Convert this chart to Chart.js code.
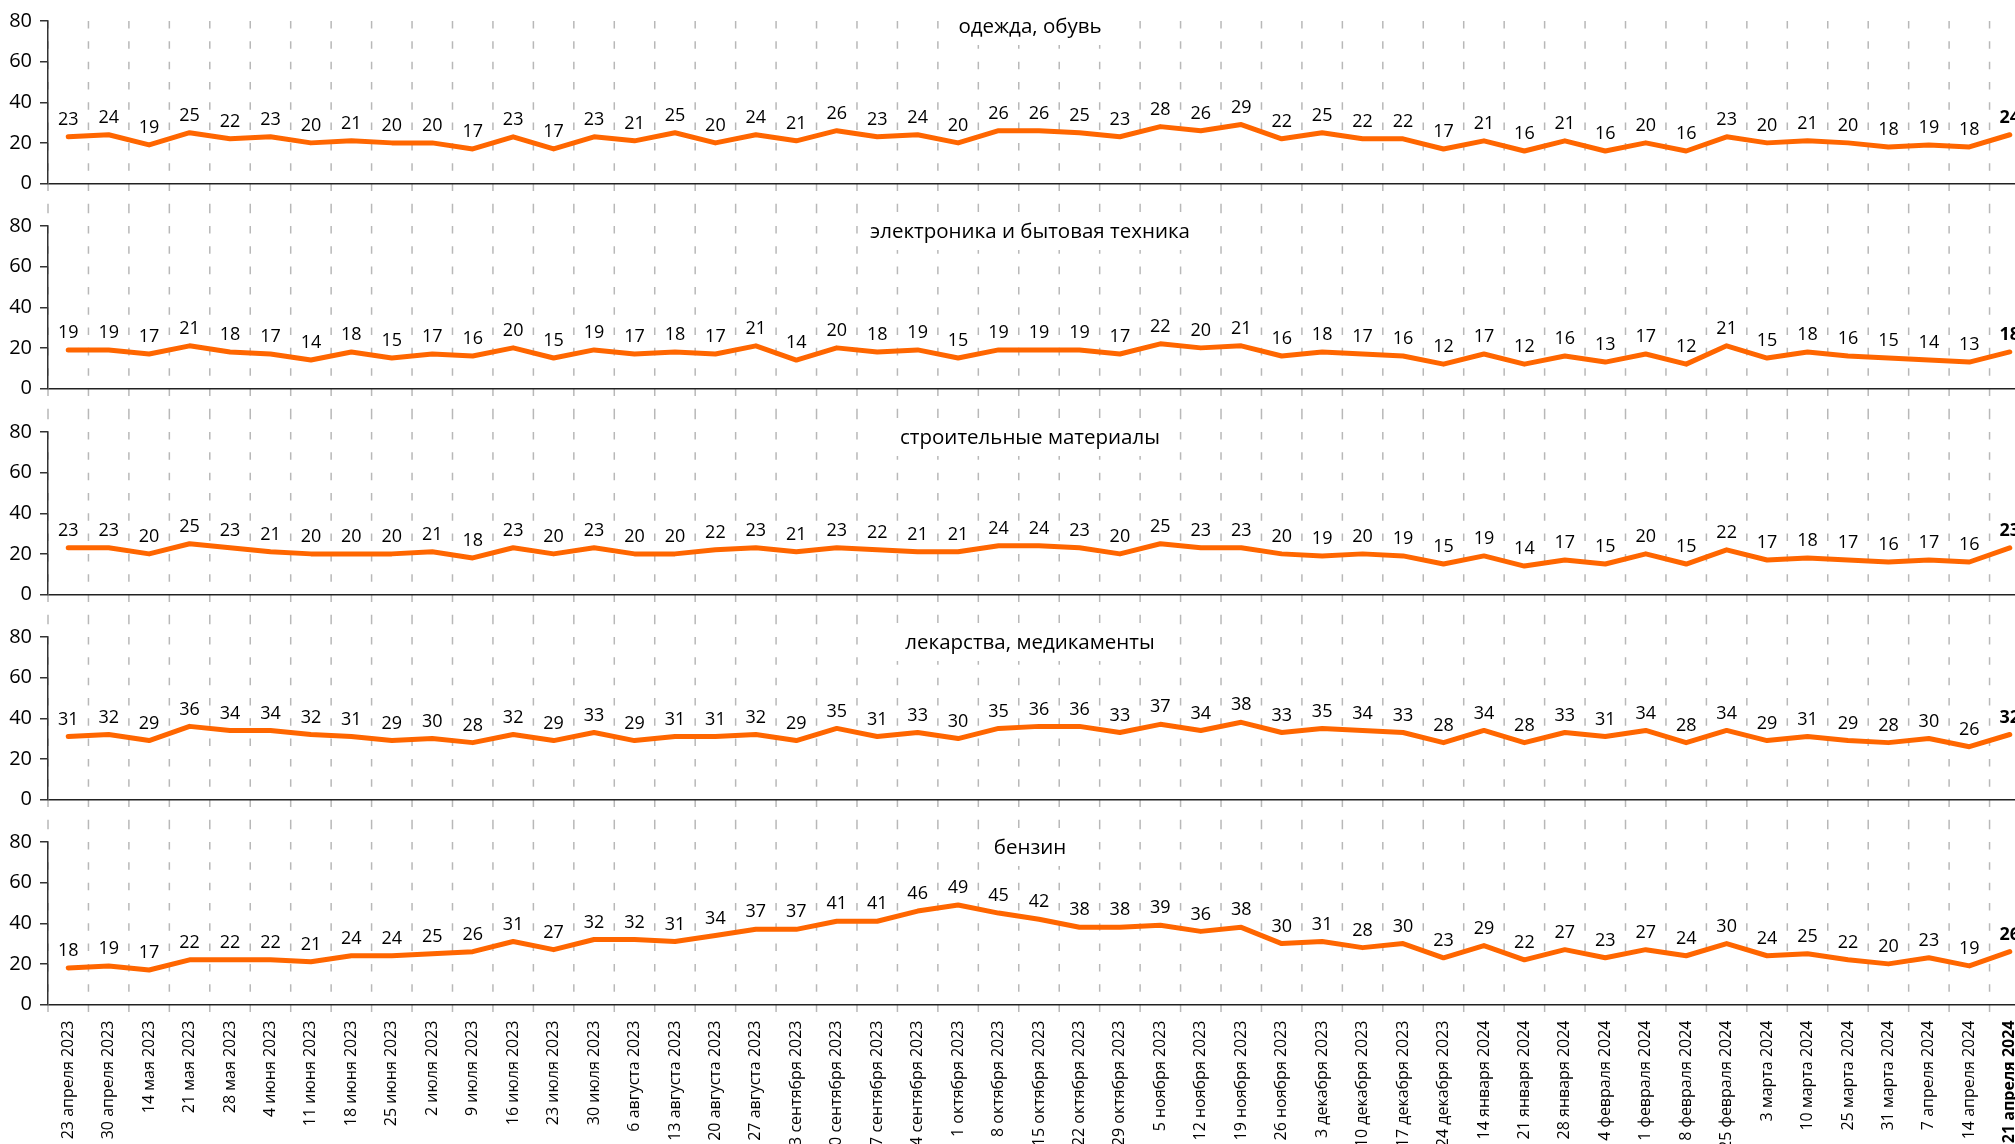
<!DOCTYPE html>
<html>
<head>
<meta charset="utf-8">
<script src="https://cdn.jsdelivr.net/npm/chart.js@4.4.1/dist/chart.umd.min.js"></script>
<style>
html,body{margin:0;padding:0;overflow:hidden;background:#fff;width:2015px;height:1144px;}
#wrap{position:relative;width:2015px;height:1144px;overflow:hidden;background:#fff;}
#wrap canvas{position:absolute;left:0;}
</style>
</head>
<body>
<div id="wrap"></div>
<script>
// ---- data ----
const categories = ['23 апреля 2023','30 апреля 2023','14 мая 2023','21 мая 2023','28 мая 2023','4 июня 2023','11 июня 2023','18 июня 2023','25 июня 2023','2 июля 2023','9 июля 2023','16 июля 2023','23 июля 2023','30 июля 2023','6 августа 2023','13 августа 2023','20 августа 2023','27 августа 2023','3 сентября 2023','10 сентября 2023','17 сентября 2023','24 сентября 2023','1 октября 2023','8 октября 2023','15 октября 2023','22 октября 2023','29 октября 2023','5 ноября 2023','12 ноября 2023','19 ноября 2023','26 ноября 2023','3 декабря 2023','10 декабря 2023','17 декабря 2023','24 декабря 2023','14 января 2024','21 января 2024','28 января 2024','4 февраля 2024','11 февраля 2024','18 февраля 2024','25 февраля 2024','3 марта 2024','10 марта 2024','25 марта 2024','31 марта 2024','7 апреля 2024','14 апреля 2024','21 апреля 2024'];

const clothing    = [23,24,19,25,22,23,20,21,20,20,17,23,17,23,21,25,20,24,21,26,23,24,20,26,26,25,23,28,26,29,22,25,22,22,17,21,16,21,16,20,16,23,20,21,20,18,19,18,24];
const electronics = [19,19,17,21,18,17,14,18,15,17,16,20,15,19,17,18,17,21,14,20,18,19,15,19,19,19,17,22,20,21,16,18,17,16,12,17,12,16,13,17,12,21,15,18,16,15,14,13,18];
const building    = [23,23,20,25,23,21,20,20,20,21,18,23,20,23,20,20,22,23,21,23,22,21,21,24,24,23,20,25,23,23,20,19,20,19,15,19,14,17,15,20,15,22,17,18,17,16,17,16,23];
const medicine    = [31,32,29,36,34,34,32,31,29,30,28,32,29,33,29,31,31,32,29,35,31,33,30,35,36,36,33,37,34,38,33,35,34,33,28,34,28,33,31,34,28,34,29,31,29,28,30,26,32];
const petrol      = [18,19,17,22,22,22,21,24,24,25,26,31,27,32,32,31,34,37,37,41,41,46,49,45,42,38,38,39,36,38,30,31,28,30,23,29,22,27,23,27,24,30,24,25,22,20,23,19,26];

const panelTitles = ['одежда, обувь','электроника и бытовая техника','строительные материалы','лекарства, медикаменты','бензин'];
const panelSeries = [clothing, electronics, building, medicine, petrol];
const yTickValues = [0, 20, 40, 60, 80];

// ---- layout / style ----
const FONT = '"Open Sans", "Noto Sans", sans-serif';
const ORANGE = '#ff6600';
const CANVAS_W = 2030;
const TOP_PAD = 20;
const PLOT_H = 162.5;
const tops = [1, 206, 412, 617, 822];
const heights = [205, 206, 205, 205, 330];

const vgridPlugin = {
  id: 'vgrid',
  beforeDraw(chart, args, o) {
    const {ctx, chartArea, scales} = chart;
    const x = scales.x, y = scales.y;
    const period = y.getPixelForValue(70) - y.getPixelForValue(80);
    const y0 = o.first ? chartArea.top : chartArea.top - 2 * period;
    const y1 = o.last ? chartArea.bottom + 9 : chart.height;
    ctx.save();
    ctx.strokeStyle = '#b8b8b8';
    ctx.lineWidth = 1.5;
    ctx.setLineDash([period * 0.37, period * 0.63]);
    for (let i = 0; i <= categories.length; i++) {
      const px = x.getPixelForValue(i - 0.5);
      ctx.beginPath();
      ctx.moveTo(px, y0);
      ctx.lineTo(px, y1);
      ctx.stroke();
    }
    ctx.restore();
  },
  beforeDatasetsDraw(chart, args, o) {
    const {ctx, chartArea} = chart;
    ctx.save();
    ctx.font = '20.5px ' + FONT;
    const w = ctx.measureText(o.title).width;
    const cx = (chartArea.left + chartArea.right) / 2 - 9;
    const cy = chartArea.top + 6;
    ctx.fillStyle = '#fff';
    ctx.fillRect(cx - w / 2 - 12, cy - 20, w + 24, 38);
    ctx.fillStyle = '#000';
    ctx.textAlign = 'center';
    ctx.textBaseline = 'middle';
    ctx.fillText(o.title, cx, cy);
    ctx.restore();
  },
  afterDatasetsDraw(chart) {
    const {ctx} = chart;
    const meta = chart.getDatasetMeta(0);
    const vals = chart.data.datasets[0].data;
    ctx.save();
    ctx.fillStyle = '#000';
    ctx.textAlign = 'center';
    ctx.textBaseline = 'middle';
    meta.data.forEach((pt, i) => {
      const last = i === vals.length - 1;
      ctx.font = (last ? 'bold ' : '') + '18px ' + FONT;
      ctx.fillText(String(vals[i]), pt.x, pt.y - 17);
    });
    ctx.restore();
  }
};

function build() {
  Chart.defaults.font.family = FONT;
  Chart.defaults.color = '#000';
  const wrap = document.getElementById('wrap');
  panelSeries.forEach((series, k) => {
    const isLast = k === panelSeries.length - 1;
    const cv = document.createElement('canvas');
    cv.width = CANVAS_W; cv.height = heights[k];
    cv.style.width = CANVAS_W + 'px'; cv.style.height = heights[k] + 'px';
    cv.style.top = tops[k] + 'px';
    wrap.appendChild(cv);
    const bottomPad = isLast ? 0 : heights[k] - TOP_PAD - PLOT_H;
    new Chart(cv, {
      type: 'line',
      data: {
        labels: categories,
        datasets: [{
          data: series,
          borderColor: ORANGE,
          borderWidth: 5,
          pointRadius: 0,
          pointHoverRadius: 0,
          tension: 0,
          fill: false,
          borderJoinStyle: 'round',
          borderCapStyle: 'round'
        }]
      },
      options: {
        responsive: false,
        animation: false,
        devicePixelRatio: 1,
        events: [],
        layout: {padding: {left: 0, right: 0, top: TOP_PAD, bottom: bottomPad}},
        plugins: {
          legend: {display: false},
          tooltip: {enabled: false},
          title: {display: false},
          vgrid: {title: panelTitles[k], first: k === 0, last: isLast}
        },
        scales: {
          x: {
            type: 'category',
            display: isLast,
            offset: true,
            grid: {display: false, drawTicks: false},
            border: {display: false},
            ticks: {
              autoSkip: false,
              minRotation: 90,
              maxRotation: 90,
              padding: 16,
              color: '#000',
              font: (ctx) => ({family: FONT, size: 16, weight: ctx.index === categories.length - 1 ? 'bold' : 'normal'})
            },
            afterFit: (s) => {
              if (isLast) { s.height = heights[k] - TOP_PAD - PLOT_H; }
              s.paddingLeft = 0; s.paddingRight = 0;
            }
          },
          y: {
            min: 0,
            max: 80,
            afterBuildTicks: (s) => { s.ticks = yTickValues.map(v => ({value: v})); },
            ticks: {
              stepSize: 20,
              padding: 8,
              color: '#000',
              font: {family: FONT, size: 20}
            },
            border: {display: true, color: '#333', width: 1.5},
            grid: {
              drawOnChartArea: true,
              drawTicks: true,
              tickLength: 8,
              lineWidth: 1.5,
              tickColor: '#333',
              color: (ctx) => (ctx.tick && ctx.tick.value === 0) ? '#222' : 'rgba(0,0,0,0)'
            },
            afterFit: (s) => { s.width = 48; }
          }
        }
      },
      plugins: [vgridPlugin]
    });
  });
}

const fontLoads = document.fonts ? Promise.all([
  document.fonts.load('16px "Open Sans"'),
  document.fonts.load('bold 16px "Open Sans"'),
  document.fonts.load('20px "Open Sans"')
]).catch(() => {}) : Promise.resolve();
fontLoads.then(build, build);
</script>
</body>
</html>
